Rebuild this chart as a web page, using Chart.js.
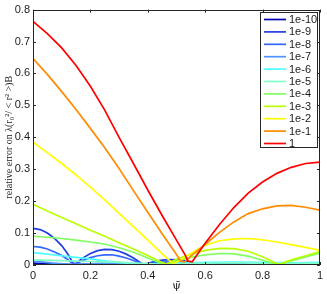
<!DOCTYPE html>
<html><head><meta charset="utf-8">
<script src="https://cdn.jsdelivr.net/npm/chart.js@4"></script>
<style>html,body{margin:0;padding:0;background:#fff;overflow:hidden}</style>
</head><body>
<canvas id="c" width="327" height="294"></canvas>
<script>
// ---- data ----
const seriesLabels = ['1e-10','1e-9','1e-8','1e-7','1e-6','1e-5','1e-4','1e-3','1e-2','1e-1','1'];
const xTickValues = [0,0.2,0.4,0.6,0.8,1];
const xTickLabels = ['0','0.2','0.4','0.6','0.8','1'];
const yTickValues = [0,0.1,0.2,0.3,0.4,0.5,0.6,0.7,0.8];
const yTickLabels = ['0','0.1','0.2','0.3','0.4','0.5','0.6','0.7','0.8'];

const err_1e10 = [[0,0.006],[0.07,0.003],[0.14,0.001],[0.25,0.004],[0.38,0.001],[0.5,0.005],[0.55,0.004],[0.6,0.001],[0.75,0.002],[1,0.001]];
const err_1e9 = [[0,0.115],[0.025,0.111],[0.05,0.1],[0.075,0.083],[0.1,0.061],[0.12,0.036],[0.14,0.006],[0.15,0.004],[0.17,0.02],[0.2,0.036],[0.225,0.045],[0.25,0.049],[0.275,0.048],[0.3,0.043],[0.325,0.034],[0.35,0.022],[0.37,0.01],[0.385,0.002],[0.42,0.01],[0.45,0.015],[0.48,0.017],[0.51,0.016],[0.54,0.011],[0.58,0.002],[0.65,0.005],[0.7,0.006],[0.76,0.005],[0.82,0.003],[0.9,0.002],[1,0.003]];
const err_1e8 = [[0,0.058],[0.025,0.056],[0.05,0.05],[0.075,0.041],[0.1,0.03],[0.12,0.018],[0.14,0.003],[0.15,0.003],[0.17,0.013],[0.2,0.023],[0.225,0.029],[0.25,0.032],[0.275,0.032],[0.3,0.028],[0.325,0.022],[0.35,0.014],[0.37,0.006],[0.385,0.001],[0.42,0.006],[0.45,0.009],[0.48,0.01],[0.51,0.009],[0.54,0.006],[0.58,0.001],[0.65,0.003],[0.7,0.004],[0.76,0.003],[0.82,0.002],[0.9,0.001],[1,0.002]];
const err_1e7 = [[0,0.012],[0.07,0.006],[0.14,0.001],[0.25,0.006],[0.38,0.001],[0.5,0.004],[0.6,0.001],[0.75,0.003],[0.9,0.001],[1,0.002]];
const err_1e6 = [[0,0.039],[0.05,0.034],[0.1,0.029],[0.15,0.024],[0.2,0.019],[0.25,0.013],[0.3,0.008],[0.35,0.004],[0.4,0.001],[0.45,0.003],[0.5,0.006],[0.6,0.008],[0.7,0.009],[0.8,0.008],[0.9,0.007],[1,0.008]];
const err_1e5 = [[0,0.016],[0.1,0.014],[0.2,0.011],[0.3,0.008],[0.4,0.004],[0.45,0.002],[0.5,0.003],[0.6,0.006],[0.7,0.007],[0.8,0.005],[0.9,0.004],[1,0.006]];
const err_1e4 = [[0,0.09],[0.05,0.087],[0.1,0.083],[0.15,0.078],[0.2,0.072],[0.25,0.065],[0.3,0.054],[0.35,0.04],[0.4,0.022],[0.45,0.004],[0.46,0.002],[0.5,0.013],[0.55,0.024],[0.6,0.032],[0.65,0.036],[0.7,0.035],[0.75,0.028],[0.8,0.015],[0.85,0.002],[0.86,0.002],[0.9,0.013],[0.95,0.025],[1,0.037]];
const err_1e3 = [[0,0.19],[0.05,0.169],[0.1,0.149],[0.15,0.129],[0.2,0.109],[0.25,0.09],[0.3,0.07],[0.35,0.05],[0.4,0.03],[0.45,0.008],[0.465,0.003],[0.5,0.018],[0.55,0.034],[0.6,0.046],[0.65,0.052],[0.7,0.051],[0.75,0.043],[0.8,0.026],[0.85,0.004],[0.86,0.003],[0.9,0.016],[0.95,0.029],[1,0.042]];
const err_1e2 = [[0,0.385],[0.05,0.352],[0.1,0.318],[0.15,0.282],[0.2,0.244],[0.25,0.204],[0.3,0.162],[0.35,0.12],[0.4,0.078],[0.45,0.036],[0.485,0.006],[0.5,0.008],[0.55,0.036],[0.6,0.062],[0.65,0.076],[0.7,0.082],[0.75,0.083],[0.8,0.079],[0.85,0.072],[0.9,0.064],[0.95,0.055],[1,0.046]];
const err_1e1 = [[0,0.647],[0.05,0.597],[0.1,0.543],[0.15,0.487],[0.2,0.428],[0.25,0.367],[0.3,0.302],[0.35,0.233],[0.4,0.165],[0.45,0.098],[0.5,0.033],[0.515,0.012],[0.53,0.01],[0.55,0.028],[0.6,0.065],[0.65,0.102],[0.7,0.135],[0.75,0.161],[0.8,0.176],[0.85,0.185],[0.9,0.187],[0.95,0.181],[1,0.172]];
const err_1 = [[0,0.763],[0.05,0.725],[0.1,0.68],[0.15,0.625],[0.2,0.56],[0.25,0.485],[0.3,0.4],[0.35,0.318],[0.4,0.235],[0.45,0.155],[0.5,0.078],[0.53,0.032],[0.54,0.012],[0.555,0.01],[0.57,0.03],[0.6,0.068],[0.65,0.127],[0.7,0.18],[0.75,0.225],[0.8,0.26],[0.85,0.287],[0.9,0.306],[0.95,0.318],[1,0.322]];

const seriesData = [err_1e10, err_1e9, err_1e8, err_1e7, err_1e6, err_1e5, err_1e4, err_1e3, err_1e2, err_1e1, err_1];
const seriesColors = ['#0000b0','#1f3fe6','#3366ff','#4d94ff','#4dffff','#80ffc8','#80ff60','#bbff00','#ffff00','#ff8c00','#ff0000'];

// ---- chart ----
const AXIS = '#262626';
const datasets = seriesData.map((pts, i) => ({
  label: seriesLabels[i],
  data: pts.map(p => ({x: p[0], y: p[1]})),
  borderColor: seriesColors[i],
  backgroundColor: seriesColors[i],
  borderWidth: 1.7,
  pointRadius: 0,
  tension: 0,
  fill: false,
  order: seriesData.length - i
}));

const framePlugin = {
  id: 'frame',
  afterDatasetsDraw(chart) {
    const {ctx, chartArea: a, scales: {x, y}} = chart;
    ctx.save();
    ctx.strokeStyle = AXIS;
    ctx.lineWidth = 1;
    ctx.strokeRect(Math.round(a.left) + 0.5, Math.round(a.top) + 0.5, Math.round(a.right - a.left) - 1, Math.round(a.bottom - a.top) - 1);
    const tl = 3;
    ctx.beginPath();
    xTickValues.forEach(v => {
      const px = Math.round(x.getPixelForValue(v)) + 0.5;
      ctx.moveTo(px, a.bottom); ctx.lineTo(px, a.bottom - tl);
      ctx.moveTo(px, a.top); ctx.lineTo(px, a.top + tl);
    });
    yTickValues.forEach(v => {
      const py = Math.round(y.getPixelForValue(v)) + 0.5;
      ctx.moveTo(a.left, py); ctx.lineTo(a.left + tl, py);
      ctx.moveTo(a.right, py); ctx.lineTo(a.right - tl, py);
    });
    ctx.stroke();
    ctx.restore();
  }
};

const legendPlugin = {
  id: 'insideLegend',
  afterDraw(chart) {
    const {ctx} = chart;
    const bx = 260.5, by = 12.5, bw = 57, bh = 135;
    ctx.save();
    ctx.fillStyle = '#fff';
    ctx.fillRect(bx, by, bw, bh);
    ctx.strokeStyle = AXIS;
    ctx.lineWidth = 1;
    ctx.strokeRect(bx, by, bw, bh);
    ctx.font = '11px "Liberation Sans", Arial, sans-serif';
    ctx.textBaseline = 'middle';
    ctx.textAlign = 'left';
    chart.data.datasets.forEach((ds, i) => {
      const ry = 19.5 + 12.4 * i;
      ctx.strokeStyle = ds.borderColor;
      ctx.lineWidth = 1.7;
      ctx.beginPath();
      ctx.moveTo(264, ry); ctx.lineTo(286, ry);
      ctx.stroke();
      ctx.fillStyle = '#222';
      ctx.fillText(ds.label, 289, ry + 0.5);
    });
    ctx.restore();
  }
};

new Chart(document.getElementById('c'), {
  type: 'line',
  data: {datasets},
  options: {
    responsive: false,
    animation: false,
    devicePixelRatio: 1,
    layout: {padding: {left: 0, right: 7, top: 8, bottom: 0}},
    plugins: {legend: {display: false}, tooltip: {enabled: false}},
    scales: {
      x: {
        type: 'linear', min: 0, max: 1,
        afterBuildTicks(s) { s.ticks = xTickValues.map(v => ({value: v})); },
        afterFit(s) { s.height = 29; },
        grid: {display: false, drawTicks: false},
        border: {display: false},
        ticks: {
          padding: 4, maxRotation: 0, autoSkip: false, color: '#222',
          font: {family: '"Liberation Sans", Arial, sans-serif', size: 11},
          callback(v) { const i = xTickValues.indexOf(v); return i >= 0 ? xTickLabels[i] : ''; }
        },
        title: {display: true, text: 'ψ̄', color: '#222',
          font: {family: '"DejaVu Serif", "Liberation Serif", serif', size: 11},
          padding: {top: 0, bottom: 1}}
      },
      y: {
        type: 'linear', min: 0, max: 0.8,
        afterBuildTicks(s) { s.ticks = yTickValues.map(v => ({value: v})); },
        afterFit(s) { s.width = 33; },
        grid: {display: false, drawTicks: false},
        border: {display: false},
        ticks: {
          padding: 3, color: '#222', autoSkip: false,
          font: {family: '"Liberation Sans", Arial, sans-serif', size: 11},
          callback(v) { const i = yTickValues.findIndex(t => Math.abs(t - v) < 1e-9); return i >= 0 ? yTickLabels[i] : ''; }
        },
        title: {display: true, text: 'relative error on λ(r₀²/ < r² >)B', color: '#222',
          font: {family: '"Liberation Serif", "DejaVu Serif", serif', size: 10},
          padding: {top: 3, bottom: 0}}
      }
    }
  },
  plugins: [framePlugin, legendPlugin]
});
</script>
</body></html>
